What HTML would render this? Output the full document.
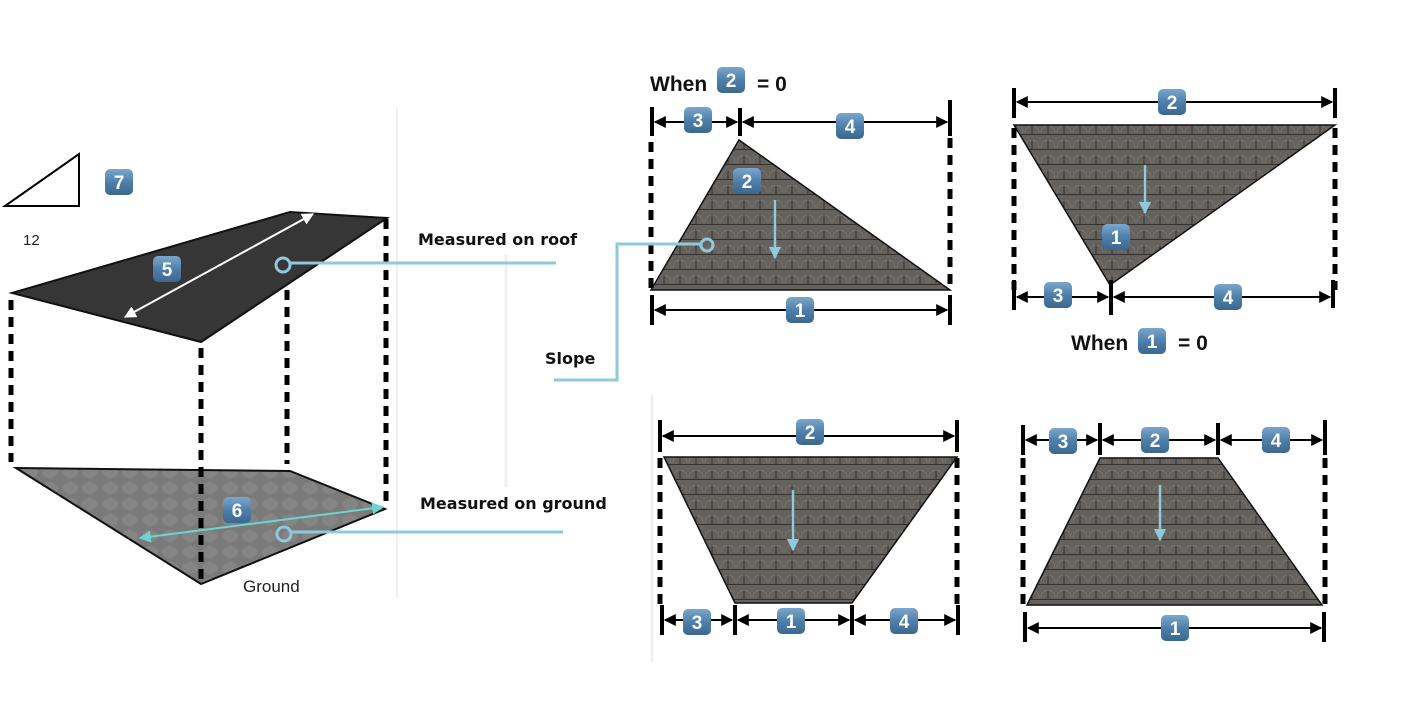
<!DOCTYPE html>
<html><head><meta charset="utf-8"><style>
html,body{margin:0;padding:0;background:#fff;}
svg{display:block;}
.b text{font-family:"Liberation Sans",sans-serif;font-weight:bold;font-size:19px;fill:#fff;text-anchor:middle;}
.lbl{font-family:"DejaVu Sans","Liberation Sans",sans-serif;font-weight:bold;font-size:16px;fill:#111;}
.w{font-family:"Liberation Sans",sans-serif;font-weight:bold;font-size:21px;fill:#111;}
</style></head><body>
<svg width="1402" height="712" viewBox="0 0 1402 712" xmlns="http://www.w3.org/2000/svg">
<defs>
<linearGradient id="bg" x1="0" y1="0" x2="0" y2="1"><stop offset="0" stop-color="#7aa6cc"/><stop offset="0.5" stop-color="#4f80aa"/><stop offset="1" stop-color="#3b6790"/></linearGradient>
<pattern id="sh" width="16" height="15" patternUnits="userSpaceOnUse">
<rect width="16" height="15" fill="#65615d"/>
<path d="M0 14.5 H16 M8 4 V14.5" stroke="#34312f" stroke-width="1" fill="none"/>
<path d="M1 13 Q1 6 8 5 Q15 6 15 13" stroke="#7a7672" stroke-width="0.8" fill="none"/>
</pattern>
<pattern id="gr" width="20" height="16" patternUnits="userSpaceOnUse">
<rect width="20" height="16" fill="#7a7a7a"/><ellipse cx="10" cy="8" rx="8" ry="6" fill="#848484"/>
</pattern>
<marker id="ak" viewBox="0 0 10 10" refX="9" refY="5" markerWidth="6" markerHeight="6" orient="auto-start-reverse"><path d="M0 0 L10 5 L0 10 z" fill="#000"/></marker>
<marker id="aw" viewBox="0 0 10 10" refX="9" refY="5" markerWidth="6" markerHeight="6" orient="auto-start-reverse"><path d="M0 0 L10 5 L0 10 z" fill="#fff"/></marker>
<marker id="ac" viewBox="0 0 10 10" refX="9" refY="5" markerWidth="6" markerHeight="6" orient="auto-start-reverse"><path d="M0 0 L10 5 L0 10 z" fill="#6fd3d0"/></marker>
<marker id="ab" viewBox="0 0 10 10" refX="9" refY="5" markerWidth="5" markerHeight="6" orient="auto-start-reverse"><path d="M0 0 L10 5 L0 10 z" fill="#8ec9dc"/></marker>
</defs>

<line x1="397" y1="108" x2="397" y2="598" stroke="#efefef" stroke-width="2"/>
<line x1="506" y1="255" x2="506" y2="487" stroke="#f0f0f0" stroke-width="3"/>
<line x1="652" y1="395" x2="652" y2="662" stroke="#f0f0f0" stroke-width="3"/>

<polygon points="5,206 79,154 79,206" fill="none" stroke="#000" stroke-width="2"/>
<text x="23" y="245" font-family="Liberation Sans,sans-serif" font-size="15" fill="#222">12</text>

<polygon points="12,293 290,212 387,218 201,342" fill="#363636" stroke="#111" stroke-width="2"/>
<polygon points="16,468 290,471 385,509 201,584" fill="url(#gr)" stroke="#111" stroke-width="2"/>
<g stroke="#000" stroke-width="5" stroke-dasharray="10,7">
<line x1="11" y1="300" x2="11" y2="462"/>
<line x1="201" y1="348" x2="201" y2="584"/>
<line x1="287" y1="290" x2="287" y2="464"/>
<line x1="386" y1="219" x2="386" y2="508"/>
</g>
<line x1="125" y1="317" x2="313" y2="214" stroke="#fff" stroke-width="2" marker-start="url(#aw)" marker-end="url(#aw)"/>
<line x1="140" y1="538" x2="383" y2="507" stroke="#6fd3d0" stroke-width="2" marker-start="url(#ac)" marker-end="url(#ac)"/>
<text x="243" y="592" font-family="Liberation Sans,sans-serif" font-size="17" fill="#222">Ground</text>
<text x="418" y="245" class="lbl">Measured on roof</text>
<text x="420" y="509" class="lbl">Measured on ground</text>
<text x="545" y="364" class="lbl">Slope</text>

<!-- shape 1 -->
<text x="650" y="91" class="w">When</text><text x="757" y="91" class="w">= 0</text>
<polygon points="651,290 739,140 950,290" fill="url(#sh)" stroke="#111" stroke-width="1.5"/>
<g stroke="#000" stroke-width="5" stroke-dasharray="10,7">
<line x1="651" y1="142" x2="651" y2="290"/><line x1="950" y1="138" x2="950" y2="290"/>
</g>
<g stroke="#000" stroke-width="4">
<line x1="652" y1="107" x2="652" y2="136"/><line x1="740" y1="108" x2="740" y2="136"/><line x1="950" y1="100" x2="950" y2="136"/>
<line x1="652" y1="295" x2="652" y2="325"/><line x1="950" y1="295" x2="950" y2="325"/>
</g>
<g stroke="#000" stroke-width="2">
<line x1="655" y1="122" x2="737" y2="122" marker-start="url(#ak)" marker-end="url(#ak)"/>
<line x1="743" y1="122" x2="947" y2="122" marker-start="url(#ak)" marker-end="url(#ak)"/>
<line x1="655" y1="310" x2="947" y2="310" marker-start="url(#ak)" marker-end="url(#ak)"/>
</g>
<line x1="775" y1="200" x2="775" y2="258" stroke="#8ec9dc" stroke-width="2.5" marker-end="url(#ab)"/>

<!-- connectors (drawn on top) -->
<g fill="none" stroke="#8ec9dc" stroke-width="3">
<circle cx="283" cy="265" r="7"/><line x1="290" y1="263" x2="556" y2="263"/>
<circle cx="284" cy="534" r="7"/><line x1="291" y1="532" x2="563" y2="532"/>
<polyline points="554,380 617,380 617,244 700,244"/><circle cx="707" cy="245" r="6"/>
</g>

<!-- shape 2 -->
<polygon points="1014,125 1335,125 1110,285" fill="url(#sh)" stroke="#111" stroke-width="1.5"/>
<g stroke="#000" stroke-width="5" stroke-dasharray="10,7">
<line x1="1014" y1="128" x2="1014" y2="290"/><line x1="1335" y1="128" x2="1335" y2="290"/>
</g>
<g stroke="#000" stroke-width="4">
<line x1="1014" y1="88" x2="1014" y2="118"/><line x1="1335" y1="88" x2="1335" y2="118"/>
<line x1="1014" y1="280" x2="1014" y2="310"/><line x1="1111" y1="280" x2="1111" y2="315"/><line x1="1333" y1="280" x2="1333" y2="308"/>
</g>
<g stroke="#000" stroke-width="2">
<line x1="1017" y1="102" x2="1332" y2="102" marker-start="url(#ak)" marker-end="url(#ak)"/>
<line x1="1017" y1="297" x2="1108" y2="297" marker-start="url(#ak)" marker-end="url(#ak)"/>
<line x1="1114" y1="297" x2="1330" y2="297" marker-start="url(#ak)" marker-end="url(#ak)"/>
</g>
<line x1="1145" y1="165" x2="1145" y2="213" stroke="#8ec9dc" stroke-width="2.5" marker-end="url(#ab)"/>
<text x="1071" y="350" class="w">When</text><text x="1178" y="350" class="w">= 0</text>

<!-- shape 3 -->
<polygon points="664,457 957,457 852,603 735,603" fill="url(#sh)" stroke="#111" stroke-width="1.5"/>
<g stroke="#000" stroke-width="5" stroke-dasharray="10,7">
<line x1="660" y1="458" x2="660" y2="605"/><line x1="957" y1="458" x2="957" y2="605"/>
</g>
<g stroke="#000" stroke-width="4">
<line x1="660" y1="420" x2="660" y2="452"/><line x1="957" y1="420" x2="957" y2="452"/>
<line x1="662" y1="605" x2="662" y2="635"/><line x1="735" y1="605" x2="735" y2="635"/><line x1="852" y1="605" x2="852" y2="635"/><line x1="958" y1="605" x2="958" y2="635"/>
</g>
<g stroke="#000" stroke-width="2">
<line x1="663" y1="436" x2="954" y2="436" marker-start="url(#ak)" marker-end="url(#ak)"/>
<line x1="665" y1="620" x2="732" y2="620" marker-start="url(#ak)" marker-end="url(#ak)"/>
<line x1="738" y1="620" x2="849" y2="620" marker-start="url(#ak)" marker-end="url(#ak)"/>
<line x1="855" y1="620" x2="955" y2="620" marker-start="url(#ak)" marker-end="url(#ak)"/>
</g>
<line x1="793" y1="490" x2="793" y2="550" stroke="#8ec9dc" stroke-width="2.5" marker-end="url(#ab)"/>

<!-- shape 4 -->
<polygon points="1100,458 1218,458 1322,605 1027,605" fill="url(#sh)" stroke="#111" stroke-width="1.5"/>
<g stroke="#000" stroke-width="5" stroke-dasharray="10,7">
<line x1="1023" y1="458" x2="1023" y2="605"/><line x1="1325" y1="458" x2="1325" y2="605"/>
</g>
<g stroke="#000" stroke-width="4">
<line x1="1023" y1="425" x2="1023" y2="455"/><line x1="1100" y1="423" x2="1100" y2="455"/><line x1="1218" y1="423" x2="1218" y2="455"/><line x1="1325" y1="420" x2="1325" y2="455"/>
<line x1="1025" y1="612" x2="1025" y2="642"/><line x1="1324" y1="612" x2="1324" y2="642"/>
</g>
<g stroke="#000" stroke-width="2">
<line x1="1026" y1="440" x2="1097" y2="440" marker-start="url(#ak)" marker-end="url(#ak)"/>
<line x1="1103" y1="440" x2="1215" y2="440" marker-start="url(#ak)" marker-end="url(#ak)"/>
<line x1="1221" y1="440" x2="1322" y2="440" marker-start="url(#ak)" marker-end="url(#ak)"/>
<line x1="1028" y1="628" x2="1321" y2="628" marker-start="url(#ak)" marker-end="url(#ak)"/>
</g>
<line x1="1160" y1="485" x2="1160" y2="540" stroke="#8ec9dc" stroke-width="2.5" marker-end="url(#ab)"/>

<g class="b">
<g transform="translate(119,182)"><rect x="-14" y="-13" width="28" height="26" rx="5" fill="url(#bg)"/><text y="7">7</text></g>
<g transform="translate(167,269)"><rect x="-14" y="-13" width="28" height="26" rx="5" fill="url(#bg)"/><text y="7">5</text></g>
<g transform="translate(237,510)"><rect x="-14" y="-13" width="28" height="26" rx="5" fill="url(#bg)"/><text y="7">6</text></g>
<g transform="translate(731,80)"><rect x="-14" y="-13" width="28" height="26" rx="5" fill="url(#bg)"/><text y="7">2</text></g>
<g transform="translate(698,120)"><rect x="-14" y="-13" width="28" height="26" rx="5" fill="url(#bg)"/><text y="7">3</text></g>
<g transform="translate(850,126)"><rect x="-14" y="-13" width="28" height="26" rx="5" fill="url(#bg)"/><text y="7">4</text></g>
<g transform="translate(747,181)"><rect x="-14" y="-13" width="28" height="26" rx="5" fill="url(#bg)"/><text y="7">2</text></g>
<g transform="translate(800,310)"><rect x="-14" y="-13" width="28" height="26" rx="5" fill="url(#bg)"/><text y="7">1</text></g>
<g transform="translate(1172,102)"><rect x="-14" y="-13" width="28" height="26" rx="5" fill="url(#bg)"/><text y="7">2</text></g>
<g transform="translate(1116,237)"><rect x="-14" y="-13" width="28" height="26" rx="5" fill="url(#bg)"/><text y="7">1</text></g>
<g transform="translate(1058,295)"><rect x="-14" y="-13" width="28" height="26" rx="5" fill="url(#bg)"/><text y="7">3</text></g>
<g transform="translate(1228,297)"><rect x="-14" y="-13" width="28" height="26" rx="5" fill="url(#bg)"/><text y="7">4</text></g>
<g transform="translate(1152,341)"><rect x="-14" y="-13" width="28" height="26" rx="5" fill="url(#bg)"/><text y="7">1</text></g>
<g transform="translate(810,432)"><rect x="-14" y="-13" width="28" height="26" rx="5" fill="url(#bg)"/><text y="7">2</text></g>
<g transform="translate(697,622)"><rect x="-14" y="-13" width="28" height="26" rx="5" fill="url(#bg)"/><text y="7">3</text></g>
<g transform="translate(791,621)"><rect x="-14" y="-13" width="28" height="26" rx="5" fill="url(#bg)"/><text y="7">1</text></g>
<g transform="translate(904,621)"><rect x="-14" y="-13" width="28" height="26" rx="5" fill="url(#bg)"/><text y="7">4</text></g>
<g transform="translate(1063,441)"><rect x="-14" y="-13" width="28" height="26" rx="5" fill="url(#bg)"/><text y="7">3</text></g>
<g transform="translate(1155,440)"><rect x="-14" y="-13" width="28" height="26" rx="5" fill="url(#bg)"/><text y="7">2</text></g>
<g transform="translate(1276,440)"><rect x="-14" y="-13" width="28" height="26" rx="5" fill="url(#bg)"/><text y="7">4</text></g>
<g transform="translate(1175,628)"><rect x="-14" y="-13" width="28" height="26" rx="5" fill="url(#bg)"/><text y="7">1</text></g>
</g>
</svg>
</body></html>
